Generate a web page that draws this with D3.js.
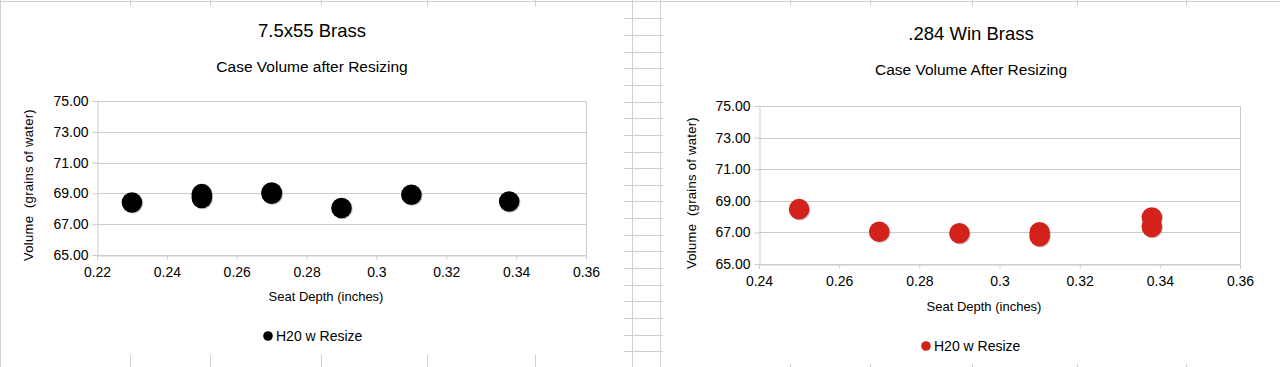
<!DOCTYPE html>
<html>
<head>
<meta charset="utf-8">
<script src="https://cdn.jsdelivr.net/npm/d3@7"></script>
<style>
  body { margin: 0; background: #fff; }
  svg { display: block; font-family: "Liberation Sans", Arial, sans-serif; }
  text { fill: #000; }
</style>
</head>
<body>
<svg id="chart"></svg>
<script>
const width = 1280;
const height = 367;

// 7.5x55 brass
const brassDepth = [0.23, 0.25, 0.25, 0.27, 0.27, 0.29, 0.31, 0.338];
const brassVolume = [68.41, 68.95, 68.71, 69.06, 68.98, 68.05, 68.91, 68.47];
// .284 Win brass
const winDepth = [0.25, 0.27, 0.29, 0.31, 0.31, 0.338, 0.338];
const winVolume = [68.47, 67.04, 66.95, 67.0, 66.76, 67.94, 67.35];

const yTicks = [65, 67, 69, 71, 73, 75];
const brassXTicks = [0.22, 0.24, 0.26, 0.28, 0.3, 0.32, 0.34, 0.36];
const winXTicks = [0.24, 0.26, 0.28, 0.3, 0.32, 0.34, 0.36];

const charts = [
  {
    title: "7.5x55 Brass", subtitle: "Case Volume after Resizing",
    depth: brassDepth, volume: brassVolume, xTicks: brassXTicks, xDomain: [0.22, 0.36],
    color: "#000", plot: [97, 586, 101, 255],
    titleX: 312, titleY: 37, subY: 72, yLabX: 33, yLabY: 185,
    xLabX: 326, xLabY: 301, legX: 268, legY: 336
  },
  {
    title: ".284 Win Brass", subtitle: "Case Volume After Resizing",
    depth: winDepth, volume: winVolume, xTicks: winXTicks, xDomain: [0.24, 0.36],
    color: "#d3211c", plot: [759, 1240, 106, 264],
    titleX: 971, titleY: 40, subY: 75, yLabX: 696, yLabY: 193,
    xLabX: 984, xLabY: 311, legX: 926, legY: 346
  }
];

const svg = d3.select("#chart").attr("width", width).attr("height", height);

// spreadsheet background lines
const bg = svg.append("g").attr("stroke", "#cfcfcf").attr("stroke-width", 1);
bg.append("line").attr("x1", 0).attr("x2", width).attr("y1", 1.5).attr("y2", 1.5);
bg.append("line").attr("x1", 0.5).attr("x2", 0.5).attr("y1", 0).attr("y2", height);
[632.5, 660.5].forEach(x => bg.append("line").attr("x1", x).attr("x2", x).attr("y1", 0).attr("y2", height));
d3.range(0, 21).forEach(k => {
  const y = Math.round(18.3 + 16.65 * k) + 0.5;
  if (y < height) bg.append("line").attr("x1", 624).attr("x2", 663).attr("y1", y).attr("y2", y);
});
const stubX = [130.5, 210.5, 321.5, 427.5, 535.5, 790.5, 870.5, 972.5, 1077.5, 1186.5];
stubX.forEach(x => bg.append("line").attr("x1", x).attr("x2", x).attr("y1", 0).attr("y2", 6));
stubX.forEach((x, i) => bg.append("line").attr("x1", x).attr("x2", x)
  .attr("y1", i < 5 ? 355 : 364).attr("y2", height));

charts.forEach(c => {
  const [x0, x1, y0, y1] = c.plot;
  const x = d3.scaleLinear().domain(c.xDomain).range([x0, x1]);
  const y = d3.scaleLinear().domain([65, 75]).range([y1, y0]);
  const g = svg.append("g");

  // grid
  g.append("g").selectAll("line").data(yTicks).enter().append("line")
    .attr("x1", x0).attr("x2", x1)
    .attr("y1", d => Math.round(y(d)) + 0.5).attr("y2", d => Math.round(y(d)) + 0.5)
    .attr("stroke", "#cccccc");
  g.append("line").attr("x1", x1 + 0.5).attr("x2", x1 + 0.5).attr("y1", y0).attr("y2", y1)
    .attr("stroke", "#cccccc");

  const yAxis = g.append("g").attr("transform", `translate(${x0 + 0.5},0)`)
    .call(d3.axisLeft(y).tickValues(yTicks).tickFormat(d3.format(".2f")).tickSize(5).tickPadding(4));
  const xAxis = g.append("g").attr("transform", `translate(0,${Math.round(y1) + 0.5})`)
    .call(d3.axisBottom(x).tickValues(c.xTicks).tickFormat(d => String(+d.toFixed(2))).tickSize(4).tickPadding(8));
  [yAxis, xAxis].forEach(a => {
    a.select(".domain").attr("stroke", "#cccccc");
    a.selectAll(".tick line").attr("stroke", "#cccccc");
    a.selectAll("text").attr("font-size", "14px").attr("fill", "#000")
      .attr("font-family", "Liberation Sans, Arial, sans-serif");
  });

  // points
  const pts = c.depth.map((d, i) => ({ d: d, v: c.volume[i] }));
  g.append("g").selectAll("circle").data(pts).enter().append("circle")
    .attr("cx", p => x(p.d) + 1).attr("cy", p => y(p.v) + 1).attr("r", 10.3)
    .attr("fill", "#666").attr("opacity", 0.35);
  g.append("g").selectAll("circle").data(pts).enter().append("circle")
    .attr("cx", p => x(p.d)).attr("cy", p => y(p.v)).attr("r", 10.3)
    .attr("fill", c.color);

  // titles
  g.append("text").attr("x", c.titleX).attr("y", c.titleY).attr("text-anchor", "middle")
    .attr("font-size", "18.5px").text(c.title);
  g.append("text").attr("x", c.titleX).attr("y", c.subY).attr("text-anchor", "middle")
    .attr("font-size", "15.5px").text(c.subtitle);
  g.append("text").attr("x", c.xLabX).attr("y", c.xLabY).attr("text-anchor", "middle")
    .attr("font-size", "13px").text("Seat Depth (inches)");
  g.append("text").attr("transform", `translate(${c.yLabX},${c.yLabY}) rotate(-90)`)
    .attr("text-anchor", "middle").attr("font-size", "13px").attr("letter-spacing", "0.3px")
    .style("white-space", "pre").text("Volume  (grains of water)");

  // legend
  g.append("circle").attr("cx", c.legX).attr("cy", c.legY).attr("r", 4.8).attr("fill", c.color);
  g.append("text").attr("x", c.legX + 8).attr("y", c.legY + 5).attr("font-size", "14px")
    .text("H20 w Resize");
});
</script>
</body>
</html>
